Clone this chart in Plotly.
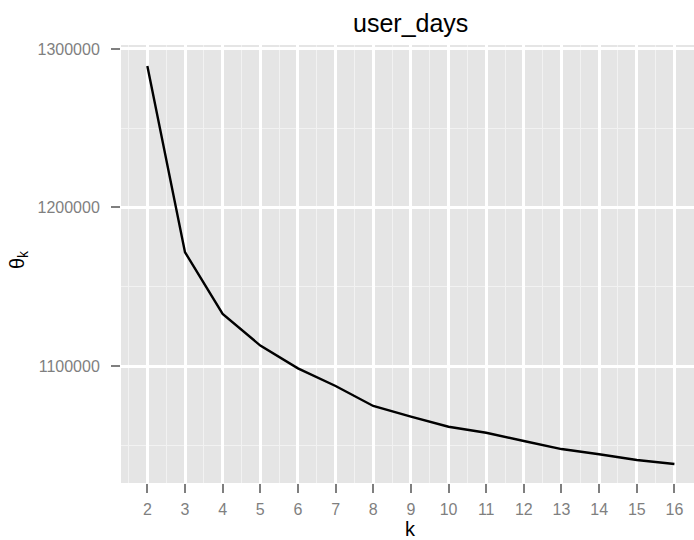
import plotly.graph_objects as go

k_values = [2, 3, 4, 5, 6, 7, 8, 9, 10, 11, 12, 13, 14, 15, 16]
theta_values = [1289300, 1171800, 1132900, 1112900, 1098500, 1087400, 1074800,
                1068000, 1061700, 1057900, 1052700, 1047600, 1044300, 1040700, 1038200]
x_ticks = list(range(2, 17))
y_ticks = [1100000, 1200000, 1300000]
title_text = "user_days"
x_title = "k"
y_title = "θ<sub>k</sub>"

FONT = "Liberation Sans, Arial, Helvetica, sans-serif"
GREY = "#7F7F7F"
W, H, L, R, T, B = 694, 540, 121, 0, 45, 57
PW, PH = W - L - R, H - T - B

fig = go.Figure()
fig.add_trace(go.Scatter(x=k_values, y=theta_values, mode="lines",
                         line=dict(color="black", width=2.4), showlegend=False,
                         hoverinfo="skip"))

fig.update_layout(
    width=W, height=H,
    margin=dict(l=L, r=R, t=T, b=B, autoexpand=False),
    paper_bgcolor="white", plot_bgcolor="#E5E5E5",
    font=dict(family=FONT, color=GREY, size=16),
    showlegend=False,
)
fig.update_xaxes(
    range=[1.3, 16.52], tickvals=x_ticks, ticktext=[str(v) for v in x_ticks],
    showgrid=True, gridcolor="white", gridwidth=2.6,
    zeroline=False, showline=False,
    ticks="outside", ticklen=9, tickwidth=2.2, tickcolor=GREY,
    ticklabelstandoff=3,
    tickfont=dict(size=16, color=GREY, family=FONT),
    minor=dict(tick0=1.5, dtick=1, showgrid=True, gridcolor="#F2F2F2", gridwidth=1.2, ticks=""),
    fixedrange=True,
)
fig.update_yaxes(
    range=[1026180, 1302520], tickvals=y_ticks, ticktext=[str(v) for v in y_ticks],
    showgrid=True, gridcolor="white", gridwidth=2.6,
    zeroline=False, showline=False,
    ticks="outside", ticklen=9, tickwidth=2.2, tickcolor=GREY,
    ticklabelstandoff=8,
    tickfont=dict(size=16, color=GREY, family=FONT),
    minor=dict(tick0=1050000, dtick=100000, showgrid=True, gridcolor="#F2F2F2", gridwidth=1.2, ticks=""),
    fixedrange=True,
)
fig.add_annotation(text=title_text, x=(410 - L) / PW, xref="paper",
                   y=1 + (T - 23) / PH, yref="paper", yanchor="middle", showarrow=False,
                   font=dict(size=25, color="black", family=FONT))
fig.add_annotation(text=x_title, x=(410 - L) / PW, xref="paper",
                   y=-(529 - (H - B)) / PH, yref="paper", yanchor="middle",
                   showarrow=False, font=dict(size=20, color="black", family=FONT))
fig.add_annotation(text=y_title, x=-(L - 18) / PW, xref="paper",
                   y=0.5 + 4 / PH, yref="paper", xanchor="center", yanchor="middle",
                   textangle=-90, showarrow=False,
                   font=dict(size=20, color="black", family=FONT))

fig.write_html("out.html")
